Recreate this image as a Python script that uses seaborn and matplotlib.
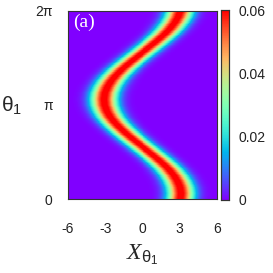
import numpy as np
import pandas as pd
import matplotlib
matplotlib.use("Agg")
import matplotlib.pyplot as plt
import seaborn as sns

# ---- data ----
# ridge centre X_theta1 at theta1 = k*pi/16, k = 0..32
theta_pts_over_pi = [k / 16 for k in range(33)]
ridge_centre = [3.05, 3.10, 3.03, 2.84, 2.55, 2.16, 1.68, 1.14, 0.55, -0.05,
                -0.66, -1.23, -1.77, -2.23, -2.61, -2.88, -3.05, -3.10, -3.03,
                -2.84, -2.55, -2.16, -1.68, -1.14, -0.55, 0.05, 0.66, 1.23,
                1.77, 2.23, 2.61, 2.88, 3.05]
ridge_peak = 0.062
ridge_sigma = 0.74

x_range = [-6, 6]
x_ticks = [-6, -3, 0, 3, 6]
y_ticks_over_pi = [0, 1, 2]
y_tick_labels = ["0", "π", "2π"]
cbar_ticks = [0, 0.02, 0.04, 0.06]
cbar_tick_labels = ["0", "0.02", "0.04", "0.06"]
panel_label = "(a)"

# ---- build grid ----
nx, ny = 300, 300
xs = x_range[0] + (np.arange(nx) + 0.5) / nx * (x_range[1] - x_range[0])
ths = (np.arange(ny) + 0.5) / ny * 2.0  # in units of pi
centres = np.interp(ths, theta_pts_over_pi, ridge_centre)
Z = ridge_peak * np.exp(-(xs[None, :] - centres[:, None]) ** 2 / (2 * ridge_sigma ** 2))
df = pd.DataFrame(Z, index=ths, columns=xs)

sns.set_style("white")
plt.rcParams["font.family"] = ["Liberation Sans", "DejaVu Sans"]
plt.rcParams["mathtext.fontset"] = "custom"
plt.rcParams["mathtext.rm"] = "Liberation Sans"
plt.rcParams["mathtext.it"] = "Liberation Serif:italic"

fig = plt.figure(figsize=(2.73, 2.73), dpi=100)
ax = fig.add_axes([0.249, 0.270, 0.546, 0.691])
cax = fig.add_axes([0.810, 0.268, 0.029, 0.694])

sns.heatmap(df, ax=ax, cbar_ax=cax, cmap="rainbow", vmin=0, vmax=0.06,
            xticklabels=False, yticklabels=False, rasterized=True,
            cbar_kws={"ticks": cbar_ticks})
ax.set_ylim(0, ny)
ax.set_xlim(0, nx)

def xpos(v):
    return (v - x_range[0]) / (x_range[1] - x_range[0]) * nx

def ypos(v):
    return v / 2.0 * ny

ax.set_xticks([xpos(v) for v in x_ticks])
ax.set_xticklabels([str(v) for v in x_ticks], fontsize=10, color="#222222")
ax.set_yticks([ypos(v) for v in y_ticks_over_pi])
ax.set_yticklabels(y_tick_labels, fontsize=10, color="#222222")
ax.tick_params(direction="in", length=3, width=0.6, color="#222222",
               top=True, right=True, bottom=True, left=True)
ax.tick_params(axis="x", pad=16)
ax.tick_params(axis="y", pad=11)
for s in ax.spines.values():
    s.set_visible(True)
    s.set_color("#333333")
    s.set_linewidth(0.8)

ax.set_xlabel(r"$\mathit{X}_{\mathrm{θ}_{\mathrm{1}}}$", fontsize=17, labelpad=5)
ax.set_ylabel(r"$\mathrm{θ}_{\mathrm{1}}$", fontsize=15, rotation=0, labelpad=17, va="center")

ax.text(0.035, 0.985, panel_label, transform=ax.transAxes, color="white",
        fontsize=14, family="Liberation Serif", ha="left", va="top")

cax.set_yticklabels(cbar_tick_labels, fontsize=10, color="#222222")
cax.tick_params(direction="in", length=3, width=0.6, left=True, right=True,
                color="#444444", pad=7)
for s in cax.spines.values():
    s.set_visible(True)
    s.set_color("#333333")
    s.set_linewidth(0.8)

fig.savefig("out.png", dpi=100)
